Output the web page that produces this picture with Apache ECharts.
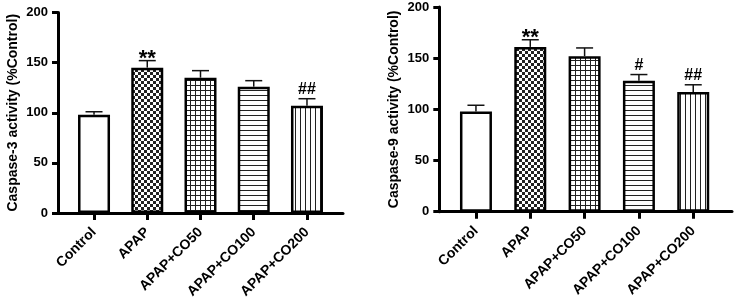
<!DOCTYPE html>
<html>
<head>
<meta charset="utf-8">
<script src="https://cdn.jsdelivr.net/npm/echarts@6/dist/echarts.min.js"></script>
<style>
  html, body { margin: 0; padding: 0; background: #fff; }
  #chart { width: 734px; height: 303px; }
</style>
</head>
<body>
<div id="chart"></div>
<script>
// data
const categories = ['Control', 'APAP', 'APAP+CO50', 'APAP+CO100', 'APAP+CO200'];
const casp3 = [98, 145, 135, 126, 107];
const casp3Err = [3, 7, 7, 6, 7];
const casp3Sig = ['', '**', '', '', '##'];
const casp9 = [98, 161, 152, 128, 117];
const casp9Err = [6, 7, 8, 6, 7];
const casp9Sig = ['', '**', '', '#', '##'];
const yTicks = [0, 50, 100, 150, 200];

const FONT = '"Liberation Sans", Arial, sans-serif';

// fill patterns, one per group
function makePattern(kind) {
    const c = document.createElement('canvas');
    const s = kind === 'checker' ? 6 : 5;
    c.width = s; c.height = s;
    const g = c.getContext('2d');
    g.fillStyle = '#fff';
    g.fillRect(0, 0, s, s);
    g.fillStyle = '#222';
    if (kind === 'checker') {
        g.fillRect(0, 0, 3, 3);
        g.fillRect(3, 3, 3, 3);
    }
    if (kind === 'grid' || kind === 'hline') g.fillRect(0, 0, s, 1);
    if (kind === 'grid' || kind === 'vline') g.fillRect(0, 0, 1, s);
    return {image: c, repeat: 'repeat'};
}
const fills = [
    '#fff',
    makePattern('checker'),
    makePattern('grid'),
    makePattern('hline'),
    makePattern('vline')
];

let grids = [];
let xAxes = [];
let yAxes = [];
let series = [];

function addPanel(axisBox, barBox, values, errs, sig, name) {
    let gi = grids.length;
    // grid carrying the axis lines (wider than the bars)
    grids.push({left: axisBox.left, width: axisBox.width, top: axisBox.top, bottom: axisBox.bottom});
    // grid where the bars live
    grids.push({left: barBox.left, width: barBox.width, top: axisBox.top, bottom: axisBox.bottom});

    xAxes.push({
        gridIndex: gi, type: 'value', min: 0, max: 1,
        axisLine: {show: true, lineStyle: {color: '#000', width: 3}},
        axisTick: {show: false}, axisLabel: {show: false}, splitLine: {show: false}
    });
    yAxes.push({
        gridIndex: gi, type: 'value', min: yTicks[0], max: yTicks[yTicks.length - 1], interval: 50,
        name: name, nameLocation: 'middle', nameGap: 38,
        nameTextStyle: {fontFamily: FONT, fontWeight: 'bold', fontSize: 14, color: '#000'},
        axisLine: {show: true, lineStyle: {color: '#000', width: 3}},
        axisTick: {show: true, length: 6, lineStyle: {color: '#000', width: 3}},
        axisLabel: {margin: 10, fontFamily: FONT, fontWeight: 'bold', fontSize: 13, color: '#000'},
        splitLine: {show: false}
    });
    xAxes.push({
        gridIndex: gi + 1, type: 'category', data: categories,
        axisLine: {show: false},
        axisTick: {show: true, alignWithLabel: true, length: 7, lineStyle: {color: '#000', width: 3}},
        axisLabel: {rotate: 45, margin: 17, fontFamily: FONT, fontWeight: 'bold', fontSize: 14, color: '#000'}
    });
    yAxes.push({
        gridIndex: gi + 1, type: 'value', min: 0, max: 200, show: false
    });

    series.push({
        type: 'bar', xAxisIndex: gi + 1, yAxisIndex: gi + 1,
        barWidth: 32, z: 3,
        data: values.map((v, i) => ({
            value: v,
            itemStyle: {color: fills[i], borderColor: '#000', borderWidth: 2.5}
        }))
    });
    series.push({
        type: 'custom', xAxisIndex: gi + 1, yAxisIndex: gi + 1, z: 4,
        data: values.map((v, i) => [i, v, errs[i], sig[i]]),
        renderItem: function (params, api) {
            const x = api.value(0);
            const top = api.coord([x, api.value(1)]);
            const cap = api.coord([x, api.value(1) + api.value(2)]);
            const txt = sig[params.dataIndex];
            const style = {stroke: '#111', lineWidth: 1.5};
            let children = [
                {type: 'line', shape: {x1: top[0], y1: top[1], x2: cap[0], y2: cap[1]}, style: style},
                {type: 'line', shape: {x1: cap[0] - 8.5, y1: cap[1], x2: cap[0] + 8.5, y2: cap[1]}, style: style}
            ];
            if (txt) {
                const star = txt.indexOf('*') >= 0;
                children.push({
                    type: 'text',
                    style: {
                        x: cap[0], y: cap[1] - (star ? 2 : 9),
                        text: txt, align: 'center', verticalAlign: 'middle',
                        font: 'bold ' + (star ? 22 : 16) + 'px ' + FONT, fill: '#000'
                    }
                });
            }
            return {type: 'group', children: children};
        }
    });
}

addPanel({left: 58, width: 285, top: 12.5, bottom: 90},
         {left: 67.4, width: 266.2},
         casp3, casp3Err, casp3Sig, 'Caspase-3 activity (%Control)');
addPanel({left: 439.3, width: 292.7, top: 7, bottom: 91.3},
         {left: 448.8, width: 271.6},
         casp9, casp9Err, casp9Sig, 'Caspase-9 activity (%Control)');

let myChart = echarts.init(document.getElementById('chart'));
myChart.setOption({
    animation: false,
    backgroundColor: '#fff',
    textStyle: {fontFamily: FONT},
    grid: grids,
    xAxis: xAxes,
    yAxis: yAxes,
    series: series
});
</script>
</body>
</html>
